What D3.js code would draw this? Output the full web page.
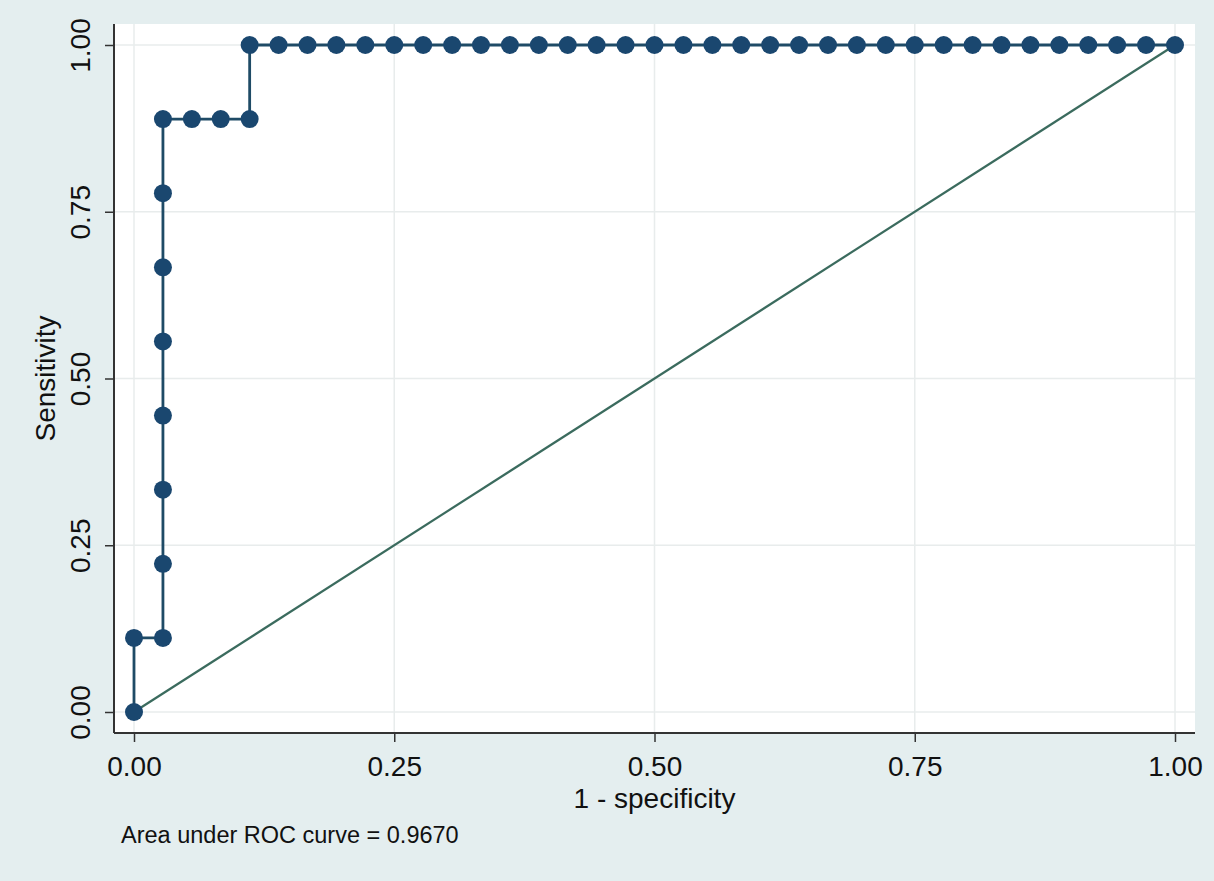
<!DOCTYPE html>
<html>
<head>
<meta charset="utf-8">
<script src="https://cdn.jsdelivr.net/npm/d3@7"></script>
<style>
  html, body { margin: 0; padding: 0; background: #e4eeef; }
  svg { display: block; }
  text { font-family: 'Liberation Sans', Arial, Helvetica, sans-serif; fill: #111; }
</style>
</head>
<body>
<div class="chart"></div>
<script>
// ROC curve points (1 - specificity, sensitivity)
const fpr = [
  0, 0, 0.0278, 0.0278, 0.0278, 0.0278, 0.0278, 0.0278, 0.0278, 0.0278,
  0.0556, 0.0833, 0.1111, 0.1111, 0.1389, 0.1667, 0.1944, 0.2222, 0.25,
  0.2778, 0.3056, 0.3333, 0.3611, 0.3889, 0.4167, 0.4444, 0.4722, 0.5,
  0.5278, 0.5556, 0.5833, 0.6111, 0.6389, 0.6667, 0.6944, 0.7222, 0.75,
  0.7778, 0.8056, 0.8333, 0.8611, 0.8889, 0.9167, 0.9444, 0.9722, 1
];
const sens = [
  0, 0.1111, 0.1111, 0.2222, 0.3333, 0.4444, 0.5556, 0.6667, 0.7778, 0.8889,
  0.8889, 0.8889, 0.8889, 1, 1, 1, 1, 1, 1,
  1, 1, 1, 1, 1, 1, 1, 1, 1,
  1, 1, 1, 1, 1, 1, 1, 1, 1,
  1, 1, 1, 1, 1, 1, 1, 1, 1
];
const refLine = [0, 1];
const ticks = [0, 0.25, 0.5, 0.75, 1];
const aucText = 'Area under ROC curve = 0.9670';

const W = 1214, H = 881;
const plot = { left: 114, right: 1195, top: 24, bottom: 733 };
const fontSize = 28;

const x = d3.scaleLinear().domain([0, 1]).range([134, 1175]);
const y = d3.scaleLinear().domain([0, 1]).range([712, 45]);

const svg = d3.select('.chart').append('svg')
  .attr('width', W).attr('height', H);

svg.append('rect').attr('width', W).attr('height', H).attr('fill', '#e4eeef');

// plot region
svg.append('rect')
  .attr('x', plot.left).attr('y', plot.top)
  .attr('width', plot.right - plot.left).attr('height', plot.bottom - plot.top)
  .attr('fill', '#fff');

// gridlines
const grid = svg.append('g');
grid.selectAll('.gx').data(ticks).enter().append('line')
  .attr('x1', (d) => x(d)).attr('x2', (d) => x(d))
  .attr('y1', plot.top).attr('y2', plot.bottom)
  .attr('stroke', '#e8ecec').attr('stroke-width', 1.5);
grid.selectAll('.gy').data(ticks).enter().append('line')
  .attr('y1', (d) => y(d)).attr('y2', (d) => y(d))
  .attr('x1', plot.left).attr('x2', plot.right)
  .attr('stroke', '#e8ecec').attr('stroke-width', 1.5);

// axes
const fmt = d3.format('.2f');
const xAxis = svg.append('g')
  .attr('transform', `translate(0,${plot.bottom})`)
  .call(d3.axisBottom(x).tickValues(ticks).tickFormat(fmt).tickSize(9));
xAxis.select('.domain').attr('d', `M${plot.left},0H${plot.right}`)
  .attr('stroke', '#333').attr('stroke-width', 2);
xAxis.selectAll('.tick line').attr('stroke', '#333').attr('stroke-width', 1.5);
xAxis.selectAll('.tick text')
  .attr('font-size', fontSize)
  .style('font-family', "'Liberation Sans', Arial, sans-serif").attr('fill', '#111')
  .attr('y', 43).attr('dy', 0);

const yAxis = svg.append('g')
  .attr('transform', `translate(${plot.left},0)`)
  .call(d3.axisLeft(y).tickValues(ticks).tickFormat(fmt).tickSize(9));
yAxis.select('.domain').attr('d', `M0,${plot.top}V${plot.bottom}`)
  .attr('stroke', '#333').attr('stroke-width', 2);
yAxis.selectAll('.tick line').attr('stroke', '#333').attr('stroke-width', 1.5);
yAxis.selectAll('.tick text')
  .attr('font-size', fontSize)
  .style('font-family', "'Liberation Sans', Arial, sans-serif").attr('fill', '#111')
  .attr('text-anchor', 'middle')
  .attr('x', 0).attr('y', 0).attr('dy', 0)
  .attr('transform', 'translate(-24,0) rotate(-90)');

// axis titles
svg.append('text')
  .attr('x', x(0.5)).attr('y', 808)
  .attr('text-anchor', 'middle').attr('font-size', fontSize)
  .text('1 - specificity');
svg.append('text')
  .attr('transform', `translate(55,${y(0.5)}) rotate(-90)`)
  .attr('text-anchor', 'middle').attr('font-size', fontSize)
  .text('Sensitivity');

// reference line
svg.append('line')
  .attr('x1', x(refLine[0])).attr('y1', y(refLine[0]))
  .attr('x2', x(refLine[1])).attr('y2', y(refLine[1]))
  .attr('stroke', '#3b6b5e').attr('stroke-width', 2.2);

// ROC curve
const pts = fpr.map((f, i) => [f, sens[i]]);
svg.append('path')
  .datum(pts)
  .attr('fill', 'none')
  .attr('stroke', '#1f4b66').attr('stroke-width', 2.8)
  .attr('d', d3.line().x((d) => x(d[0])).y((d) => y(d[1])));

svg.append('g').selectAll('circle').data(pts).enter().append('circle')
  .attr('cx', (d) => x(d[0])).attr('cy', (d) => y(d[1]))
  .attr('r', 9)
  .attr('fill', '#1a476f');

// note
svg.append('text')
  .attr('x', 121).attr('y', 843)
  .attr('font-size', 23.5)
  .text(aucText);
</script>
</body>
</html>
